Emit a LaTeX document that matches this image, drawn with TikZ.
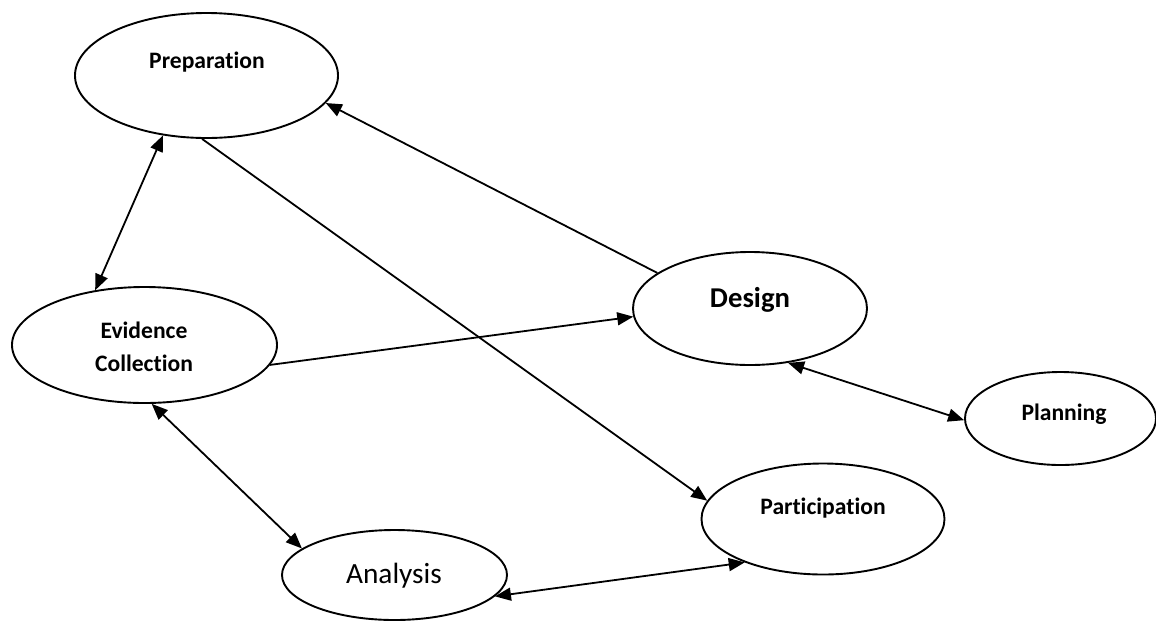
\documentclass[tikz,border=0pt]{standalone}
\usepackage{fontspec}
\setmainfont{Carlito}[Ligatures={NoCommon}]
\usetikzlibrary{arrows.meta,shapes.geometric}
\begin{document}
\begin{tikzpicture}[x=1pt,y=-1pt,
  oval/.style={ellipse,draw,line width=1.9pt,inner sep=0pt},
  conn/.style={line width=1.8pt},
  lbl/.style={anchor=base,inner sep=0pt,font=\fontsize{23.6}{28}\selectfont\bfseries},
  biglbl/.style={anchor=base,inner sep=0pt,font=\fontsize{28.7}{34}\selectfont\bfseries},
  reglbl/.style={anchor=base,inner sep=0pt,font=\fontsize{29.3}{35}\selectfont},
  >={Triangle[length=16pt,width=13pt]}]
\useasboundingbox (0,0) rectangle (1156,622);
% ellipses
\node[oval,minimum width=263pt,minimum height=125pt] (prep) at (206.5,75.5) {};
\node[oval,minimum width=234pt,minimum height=113pt] (des) at (750,308.5) {};
\node[oval,minimum width=265pt,minimum height=116pt] (evid) at (144.5,345) {};
\node[oval,minimum width=191pt,minimum height=93pt] (plan) at (1060.5,418.5) {};
\node[oval,minimum width=243pt,minimum height=111pt] (part) at (823,519) {};
\node[oval,minimum width=225pt,minimum height=90pt] (anal) at (394.5,575) {};
% labels
\node[lbl] (tprep) at (207,68) {Preparation};
\node[biglbl] (tdes) at (750,307) {Design};
\node[lbl] (tevid) at (144,338) {Evidence};
\node[lbl] (tcoll) at (144,371.5) {Collection};
\node[lbl] (tplan) at (1064,420.5) {Planning};
\node[lbl] (tpart) at (823,514) {Participation};
\node[reglbl] (tanal) at (394,583) {Analysis};
% connectors
\draw[conn,->] (des.159) -- (prep.347.7);
\draw[conn,<->] (prep.234) -- (evid.132);
\draw[conn,->] (prep.266.5) -- (part.171);
\draw[conn,->] (evid.351.8) -- (des.184.6);
\draw[conn,<->] (des.305.4) -- (plan.181);
\draw[conn,<->] (evid.277.8) -- (anal.164);
\draw[conn,<->] (anal.348.4) -- (part.209);
\end{tikzpicture}
\end{document}
